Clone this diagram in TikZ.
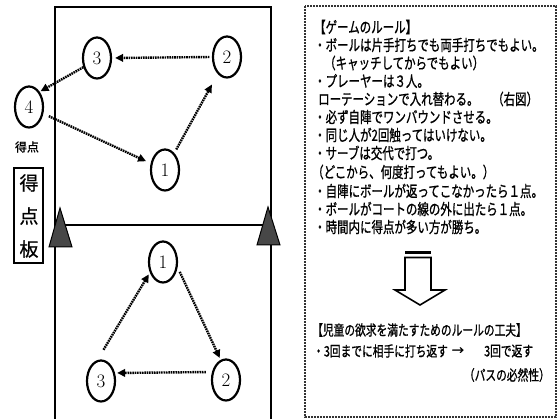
\documentclass[tikz,border=0pt]{standalone}
\usepackage{fontspec}
\newfontfamily\jp[FakeStretch=0.74,FakeBold=0.9]{Noto Sans CJK JP}
\newfontfamily\jpn[FakeBold=0.8]{Noto Sans CJK JP}
\usetikzlibrary{shapes.geometric,arrows.meta}
\begin{document}
\begin{tikzpicture}[x=1pt,y=-1pt,
  player/.style={ellipse, draw, line width=2.2pt, minimum width=28pt, minimum height=41pt, inner sep=0pt, font=\fontsize{19}{19}\selectfont},
  pass/.style={line width=2.4pt, dash pattern=on 1.6pt off 0.8pt, -{Triangle[length=8pt,width=7.5pt]}},
  court/.style={line width=2.6pt},
  pole/.style={draw=black, line width=1pt, fill=black!72},
  rule/.style={anchor=west, inner sep=0pt, font=\jp\fontsize{15.5}{18}\selectfont},
  rulet/.style={anchor=west, inner sep=0pt, font=\jp\fontsize{14.5}{18}\selectfont}
]
\useasboundingbox (0,0) rectangle (558,419);
\fill[white] (0,0) rectangle (558,419);

% court
\draw[court] (55,420) -- (55,7) -- (271,7) -- (271,420);
\draw[court] (55,225) -- (271,225);
\draw[pole] (60,208) -- (72,247) -- (49,247) -- cycle;
\draw[pole] (268,207) -- (280,245) -- (257,245) -- cycle;

% score board
\node[font=\jpn\fontsize{12}{12}\selectfont, inner sep=0pt] (tokuten) at (27,147) {得点};
\draw[line width=1.2pt] (14,168) rectangle (43,263);
\node[font=\jpn\fontsize{19}{19}\selectfont, inner sep=0pt] (b1c) at (29,183) {得};
\node[font=\jpn\fontsize{19}{19}\selectfont, inner sep=0pt] (b2c) at (29,216) {点};
\node[font=\jpn\fontsize{19}{19}\selectfont, inner sep=0pt] (b3c) at (29,249) {板};

% top players
\node[player] (t3) at (97,58) {3};
\node[player] (t2) at (227,57) {2};
\node[player] (t4) at (29,107) {4};
\node[player] (t1) at (165,170) {1};
\draw[pass, shorten <=2.5pt, shorten >=3pt] (t2.west) -- (t3.east);
\draw[pass, shorten >=1pt] (t3.214) -- (t4.55);
\draw[pass, shorten <=6pt, shorten >=5pt] (t4) -- (t1);
\draw[pass, shorten <=4pt, shorten >=12pt] (t1) -- (t2);

% bottom players
\node[player] (b1) at (163,262) {1};
\node[player] (b3) at (101,381) {3};
\node[player] (b2) at (226,380) {2};
\draw[pass, shorten <=12pt, shorten >=2pt] (b3.100) -- (b1.219);
\draw[pass, shorten <=5pt, shorten >=2pt] (b1.-20) -- (b2.105);
\draw[pass, shorten <=5pt, shorten >=1pt] ([yshift=8pt]b2.west) -- ([yshift=8pt]b3.east);

% rules box
\draw[line width=1.3pt, draw=black!80, dash pattern=on 0.8pt off 0.7pt] (305,6) rectangle (556,417);
\node[rule] (r0) at (314,27) {【ゲームのルール】};
\node[rule] (r1) at (314,45) {・ボールは片手打ちでも両手打ちでもよい。};
\node[rule] (r2) at (324,63) {（キャッチしてからでもよい）};
\node[rule] (r3) at (314,81) {・プレーヤーは３人。};
\node[rule] (r4) at (318,99) {ローテーションで入れ替わる。};
\node[rule] (r4b) at (492,99) {（右図）};
\node[rule] (r5) at (314,117) {・必ず自陣でワンバウンドさせる。};
\node[rule] (r6) at (314,135) {・同じ人が2回触ってはいけない。};
\node[rule] (r7) at (314,153) {・サーブは交代で打つ。};
\node[rule] (r8) at (312,172) {（どこから、何度打ってもよい。）};
\node[rule] (r9) at (314,191) {・自陣にボールが返ってこなかったら１点。};
\node[rule] (r10) at (314,209) {・ボールがコートの線の外に出たら１点。};
\node[rule] (r11) at (314,227) {・時間内に得点が多い方が勝ち。};

% big down arrow
\draw[line width=3pt] (405,252.5) -- (431,252.5);
\draw[line width=1.6pt, line join=miter] (405,257.5) -- (431,257.5) -- (431,290) -- (445,290) -- (420,305) -- (395,290) -- (405,290) -- cycle;

% improvement
\node[rulet] (k0) at (312,330) {【児童の欲求を満たすためのルールの工夫】};
\node[rulet] (k1) at (313,351) {・3回までに相手に打ち返す};
\node[rulet, anchor=center, font=\jpn\fontsize{12}{12}\selectfont] (k2) at (458,351) {→};
\node[rulet] (k3) at (484,351) {3回で返す};
\node[rulet, anchor=east] (k4) at (550,375) {（パスの必然性）};
\end{tikzpicture}
\end{document}
